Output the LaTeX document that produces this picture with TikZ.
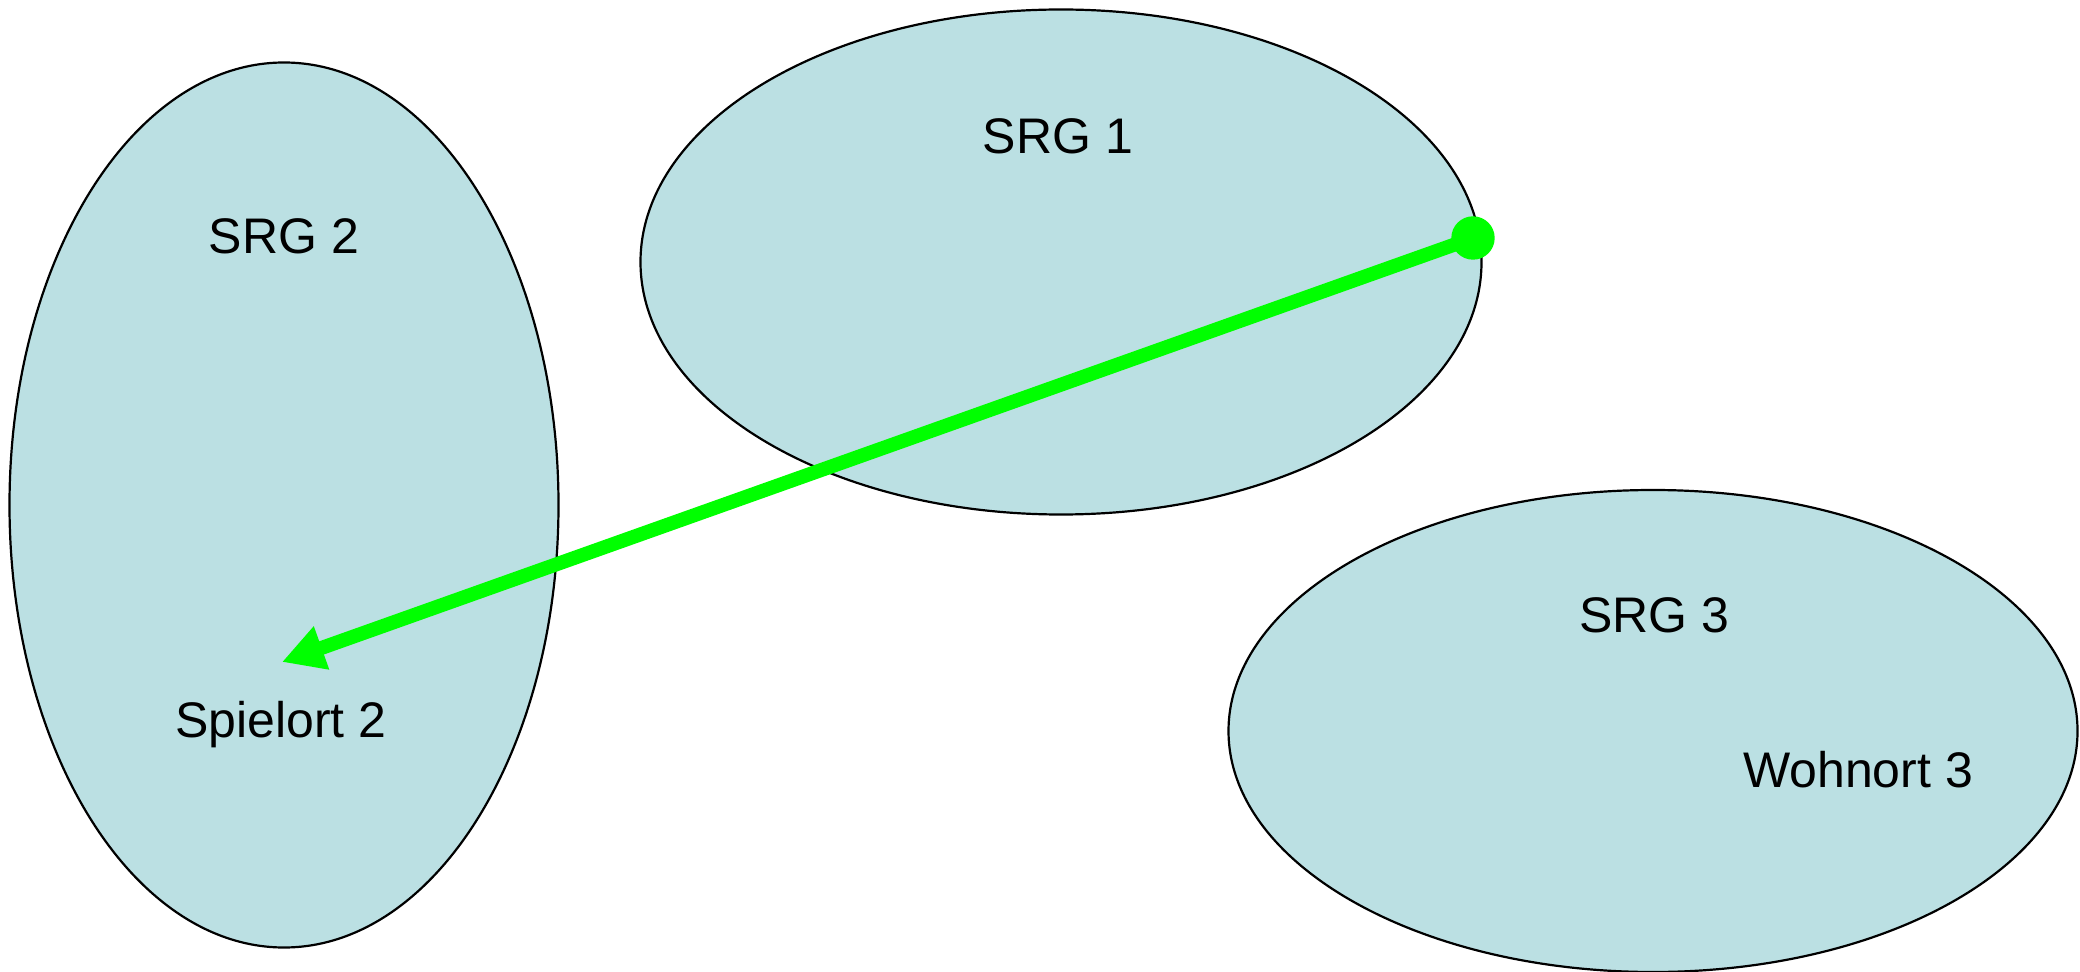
\documentclass[tikz,border=0pt]{standalone}
\usepackage{fontspec}
\setmainfont{Liberation Sans}
\usetikzlibrary{shapes.geometric,arrows.meta}
\definecolor{srgfill}{HTML}{BBE0E3}
\definecolor{arrowgreen}{HTML}{00FF00}
\tikzset{
  region/.style={ellipse, draw=black, line width=1.1pt, fill=srgfill, inner sep=0pt},
  lbl/.style={anchor=base, inner sep=0pt, font=\fontsize{25}{30}\selectfont},
  gdot/.style={circle, fill=arrowgreen, minimum size=21.7pt, inner sep=0pt},
  garrow/.style={draw=arrowgreen, line width=7pt, -{Triangle[length=21pt,width=21.5pt]}}
}
\begin{document}
\begin{tikzpicture}[x=0.5pt,y=-0.5pt]
\useasboundingbox (0,0) rectangle (2080,972);
\node[region, minimum width=274.5pt, minimum height=442.5pt] (srg2) at (284,505) {};
\node[region, minimum width=420.5pt, minimum height=252.5pt] (srg1) at (1061,262) {};
\node[region, minimum width=424.5pt, minimum height=241pt] (srg3) at (1653,731) {};
\node[lbl] (t1) at (1058,154) {SRG 1};
\node[lbl] (t2) at (284,254) {SRG 2};
\node[lbl] (t3) at (1654,632) {SRG 3};
\node[lbl] (sp2) at (281,737) {Spielort 2};
\node[lbl] (wo3) at (1858,787) {Wohnort 3};
\node[gdot] (start) at (1473,238) {};
\coordinate (tip) at (282,662);
\draw[garrow] (start.center) -- (tip);
\end{tikzpicture}
\end{document}
